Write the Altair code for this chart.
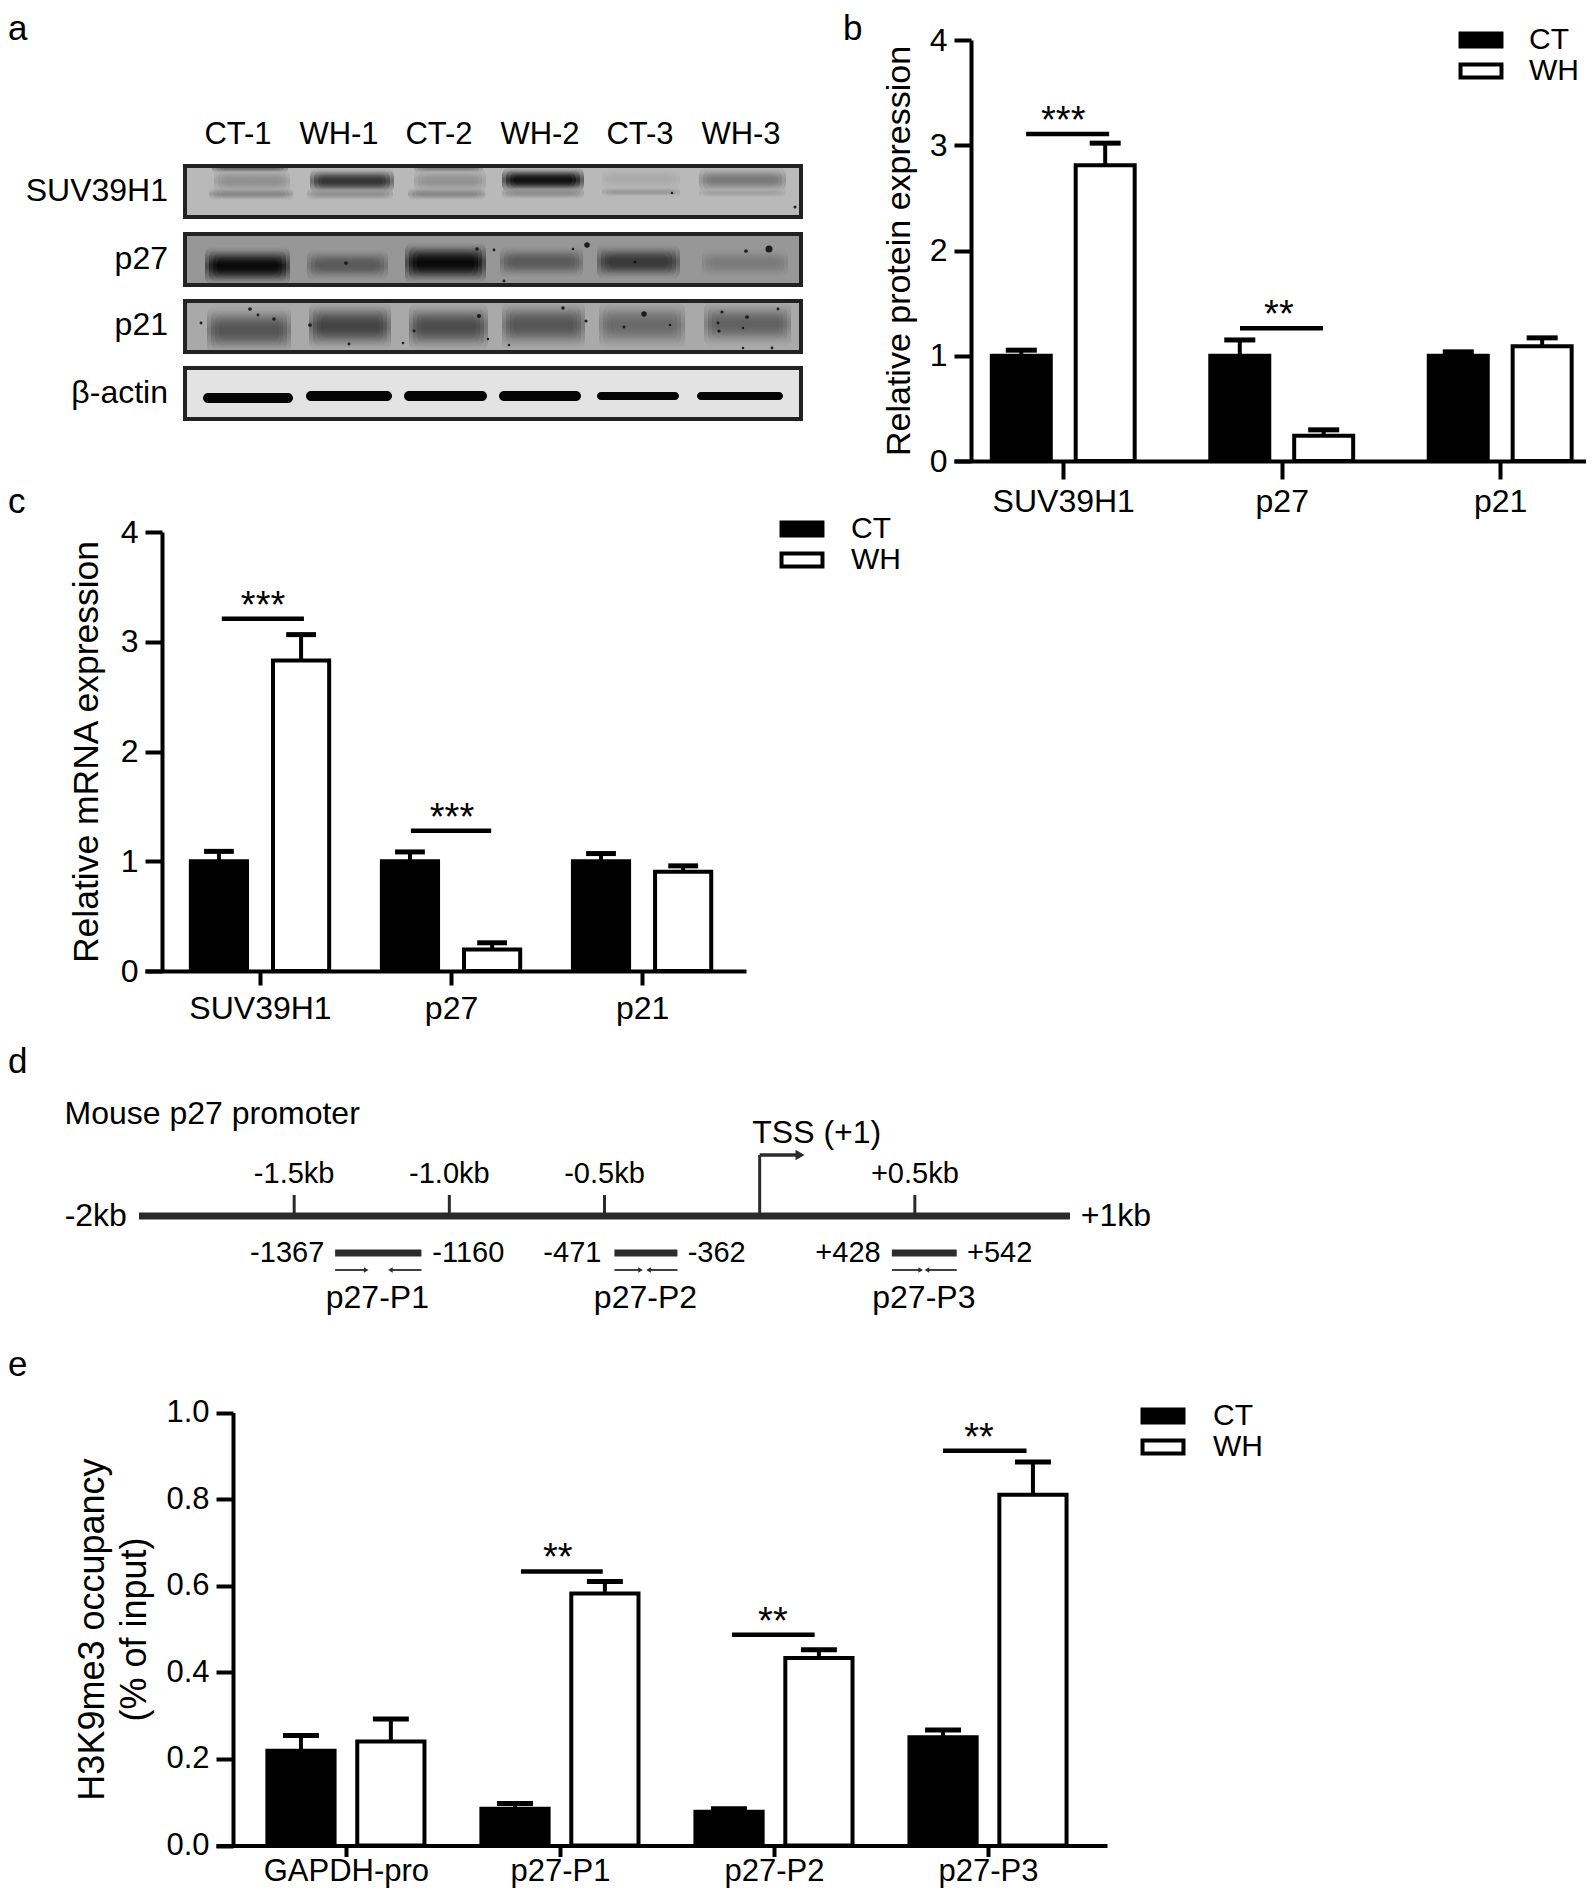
import altair as alt
import pandas as pd

W, H = 1578, 1880
FONT = "Liberation Sans"
INK = "#000000"

# ---------- panel b ----------
b_groups = ["SUV39H1", "p27", "p21"]
b_ct = [1.0, 1.0, 1.0]
b_ct_top = [1.053, 1.15, 1.037]
b_wh = [2.81, 0.24, 1.09]
b_wh_top = [3.02, 0.296, 1.17]
b_sig = [(0.33, 0.71, 3.108, 0.50, "***"), (1.309, 1.689, 1.262, 1.487, "**")]

# ---------- panel c ----------
c_groups = ["SUV39H1", "p27", "p21"]
c_ct = [1.0, 1.0, 1.0]
c_ct_top = [1.09, 1.085, 1.07]
c_wh = [2.83, 0.195, 0.905]
c_wh_top = [3.065, 0.257, 0.958]
c_sig = [(0.30, 0.73, 3.21, 0.516, "***"), (1.29, 1.71, 1.277, 1.505, "***")]

# ---------- panel e ----------
e_groups = ["GAPDH-pro", "p27-P1", "p27-P2", "p27-P3"]
e_ct = [0.219, 0.085, 0.078, 0.25]
e_ct_top = [0.254, 0.097, 0.085, 0.267]
e_wh = [0.24, 0.582, 0.433, 0.81]
e_wh_top = [0.292, 0.61, 0.452, 0.886]
e_sig = [(1.318, 1.70, 0.633, 1.49, "**"), (2.304, 2.69, 0.487, 2.495, "**"), (3.29, 3.68, 0.912, 3.458, "**")]

# ---------- panel a: western blot (read in blot units) ----------
lane_names = ["CT-1", "WH-1", "CT-2", "WH-2", "CT-3", "WH-3"]
lane_pos = [238, 339, 439, 540, 640, 741]
row_names = ["SUV39H1", "p27", "p21", "\u03b2-actin"]
row_pos = [191, 259, 325, 393]
frames = [(164, 219, "#b9b9b9"), (232, 287, "#979797"), (299, 354, "#a9a9a9"), (366, 421, "#e3e3e3")]
# start, end, centre, half height, grey level
bands = [
    (217, 287, 181, 8, "#8e8e8e"), (212, 290, 194, 4, "#858585"),
    (313, 391, 181, 8, "#2c2c2c"), (310, 390, 194, 4, "#8f8f8f"),
    (417, 483, 181, 8, "#909090"), (411, 482, 194, 4, "#858585"),
    (505, 581, 180, 8, "#050505"), (505, 581, 193, 4, "#8c8c8c"),
    (605, 677, 179, 7, "#a9a9a9"), (605, 677, 192, 3, "#979797"),
    (702, 783, 180, 8, "#767676"), (702, 783, 193, 3, "#a0a0a0"),
    (215, 285, 168, 3, "#666666"), (417, 480, 168, 3, "#7a7a7a"),
    (208, 287, 266, 12, "#000000"), (310, 385, 265, 10, "#565656"),
    (408, 483, 263, 13, "#000000"), (503, 580, 262, 10, "#565656"),
    (600, 677, 262, 11, "#333333"), (705, 785, 263, 9, "#797979"),
    (210, 288, 330, 15, "#4f4f4f"), (312, 388, 326, 15, "#3d3d3d"),
    (412, 485, 327, 15, "#474747"), (505, 582, 325, 15, "#505050"),
    (602, 682, 325, 15, "#666666"), (707, 788, 324, 14, "#5d5d5d"),
]
actin_bands = [
    (203, 293, 398, 5), (306, 392, 396, 5), (404, 487, 396, 5),
    (499, 581, 396, 5), (597, 679, 396, 4), (697, 783, 396, 4),
]
speck_x = [477, 494, 346, 587, 573, 746, 769, 504, 635, 795, 672, 250, 258, 274, 201, 310, 479, 349, 414, 403, 488,
           563, 586, 644, 624, 670, 722, 747, 718, 719, 743, 778, 743, 772, 509]
speck_y = [249, 250, 263, 245, 249, 251, 249, 281, 262, 207, 193, 309, 315, 319, 323, 325, 316, 344, 331, 343, 339,
           308, 321, 314, 327, 325, 312, 317, 323, 331, 328, 309, 348, 348, 345]
speck_r = [12, 8, 14, 30, 6, 14, 50, 8, 10, 10, 6, 14, 8, 12, 8, 14, 18, 8, 8, 6, 6,
           12, 10, 30, 8, 6, 10, 14, 8, 10, 6, 8, 6, 8, 6]

# ---------- panel d: promoter map (bp; track height above the line) ----------
d_ticks = [-1500, -1000, -500, 500]
d_tick_names = ["-1.5kb", "-1.0kb", "-0.5kb", "+0.5kb"]
d_amp_start = [-1368, -468, 426]
d_amp_end = [-1090, -265, 635]
d_amp_names = ["p27-P1", "p27-P2", "p27-P3"]
d_amp_mid = [-1232, -368, 529]
d_side_text = ["-1367", "-471", "+428"]
d_side_x = [-1403, -510, 390]
d_end_text = ["-1160", "-362", "+542"]
d_end_x = [-1055, -232, 668]
d_fwd = [(-1368, -1268), (-468, -384), (426, 519)]
d_rev = [(-1090, -1190), (-265, -358), (635, 539)]

letters = ["a", "b", "c", "d", "e"]
letter_x = [0, 835, 0, 0, 0]
letter_y = [32, 32, 505, 1065, 1368]


def txt(df, x, y, size, align="center", baseline="middle", dy=0):
    return alt.Chart(df).mark_text(font=FONT, fontSize=size, align=align, baseline=baseline, color=INK, dy=dy).encode(
        x=x, y=y, text="t:N")


def bar_panel(groups, ct, ct_top, wh, wh_top, sig, xdom, xr, yvals, ydom, yr, off, half, cap, yfmt, ytitle, title_x,
              leg_x, leg_y, lab_off, fs, title_fs, label_pad_x, xtick=18):
    xs = alt.Scale(domain=xdom, range=xr, nice=False, zero=False)
    ys = alt.Scale(domain=ydom, range=yr, nice=False, zero=False)
    rows = []
    for i in range(len(groups)):
        for name, sgn, v, t in (("CT", -1, ct[i], ct_top[i]), ("WH", 1, wh[i], wh_top[i])):
            c = i + 0.5 + sgn * off
            rows.append(dict(series=name, v=v, top=t, zero=0, c=c, x0=c - half, x1=c + half, c0=c - cap, c1=c + cap))
    df = pd.DataFrame(rows)
    names = "[" + ",".join("'%s'" % g for g in groups) + "]"
    xaxis = alt.Axis(orient="bottom", offset=-(H - yr[0]), values=[i + 0.5 for i in range(len(groups))],
                     labelExpr=names + "[floor(datum.value)]", title=None, grid=False, domainWidth=4,
                     domainColor=INK, tickColor=INK, tickWidth=4, tickSize=xtick, labelFont=FONT, labelFontSize=fs,
                     labelColor=INK, labelPadding=label_pad_x, labelOverlap=False, labelFlush=False)
    yaxis = alt.Axis(orient="left", offset=-(xr[0] + 17), values=yvals, format=yfmt, title=ytitle, grid=False,
                     domainWidth=4, domainColor=INK, tickColor=INK, tickWidth=4, tickSize=17, labelFont=FONT,
                     labelFontSize=fs, labelColor=INK, labelPadding=7, titleFont=FONT, titleFontSize=title_fs,
                     titleFontWeight="normal", titleColor=INK, titleX=title_x, titleLineHeight=title_fs + 6)
    X = alt.X("x0:Q", scale=xs, axis=xaxis)
    Y = alt.Y("v:Q", scale=ys, axis=yaxis)
    legend = alt.Legend(orient="none", legendX=leg_x, legendY=leg_y, title=None, symbolType="M-3.15,-1H3.15V1H-3.15Z",
                        symbolSize=169, symbolStrokeColor=INK, symbolStrokeWidth=4, labelFont=FONT, labelFontSize=30,
                        labelColor=INK, labelOffset=lab_off, rowPadding=1, values=["CT", "WH"])
    fill = alt.Fill("series:N", scale=alt.Scale(domain=["CT", "WH"], range=[INK, "#ffffff"]), legend=legend)
    NX = alt.X("c:Q", scale=xs, axis=None)
    NY = alt.Y("v:Q", scale=ys, axis=None)
    stems = alt.Chart(df).mark_rule(color=INK, strokeWidth=4).encode(x=NX, y=NY, y2="top:Q")
    caps = alt.Chart(df).mark_rule(color=INK, strokeWidth=5).encode(
        x=alt.X("c0:Q", scale=xs, axis=None), x2="c1:Q", y=alt.Y("top:Q", scale=ys, axis=None))
    rects = alt.Chart(df).mark_rect(stroke=INK, strokeWidth=4).encode(x=X, x2="x1:Q", y=Y, y2="zero:Q", fill=fill)
    sdf = pd.DataFrame(sig, columns=["a", "b", "v", "s", "t"])
    sbars = alt.Chart(sdf).mark_rule(color=INK, strokeWidth=4.5).encode(
        x=alt.X("a:Q", scale=xs, axis=None), x2="b:Q", y=NY)
    stars = txt(sdf, alt.X("s:Q", scale=xs, axis=None), NY, 38, baseline="alphabetic", dy=-1)
    return [stems, caps, rects, sbars, stars]


panel_b = bar_panel(b_groups, b_ct, b_ct_top, b_wh, b_wh_top, b_sig, [0, 2.911], [946, 1582], [0, 1, 2, 3, 4], [0, 4],
                    [453, 32], 0.192, 0.135, 0.071, "d", "Relative protein expression", -55, 1458, 17, 33, 32, 34, 7)
panel_c = bar_panel(c_groups, c_ct, c_ct_top, c_wh, c_wh_top, c_sig, [-0.102, 3.044], [137, 738], [0, 1, 2, 3, 4], [0, 4],
                    [963, 524], 0.215, 0.147, 0.078, "d", "Relative mRNA expression", -58, 779, 506, 34, 32, 35.5, 8, xtick=14)
panel_e = bar_panel(e_groups, e_ct, e_ct_top, e_wh, e_wh_top, e_sig, [-0.107, 4.056], [208, 1099],
                    [0, 0.2, 0.4, 0.6, 0.8, 1.0], [0, 1], [1837.5, 1404.6], 0.21, 0.157, 0.084, ".1f",
                    ["H3K9me3 occupancy", "(% of input)"], -122, 1140, 1393, 35, 31, 36, 0, xtick=11)

# ---------- panel a ----------
ax = alt.Scale(domain=[183, 803], range=[175, 795], nice=False, zero=False)
ay = alt.Scale(domain=[164, 421], range=[156, 413], nice=False, zero=False)
BX = alt.X("x0:Q", scale=ax, axis=None)
BY = alt.Y("y0:Q", scale=ay, axis=None)
a_layers = []
fdf = pd.DataFrame(frames, columns=["y0", "y1", "g"]).assign(x0=185, x1=801)
for _, r in fdf.iterrows():
    a_layers.append(alt.Chart(pd.DataFrame([r.to_dict()])).mark_rect(fill=r["g"]).encode(x=BX, x2="x1:Q", y=BY, y2="y1:Q"))


def rgba(hexc, a):
    v = [int(hexc[i:i + 2], 16) for i in (1, 3, 5)]
    return "rgba(%d,%d,%d,%.2f)" % (v[0], v[1], v[2], a)


for (x0, x1, yc, hh, g) in bands:
    for k, inset in enumerate([-3, 1, 5, 9]):
        h = hh * (1.6 - 0.25 * k)
        stops = [alt.GradientStop(color=rgba(g, 0), offset=0), alt.GradientStop(color=rgba(g, 0.5), offset=0.45),
                 alt.GradientStop(color=rgba(g, 0.5), offset=0.55), alt.GradientStop(color=rgba(g, 0), offset=1)]
        grad = alt.Gradient(gradient="linear", stops=stops, x1=0, x2=0, y1=0, y2=1)
        d = pd.DataFrame([dict(x0=x0 + inset, x1=x1 - inset, y0=yc - h, y1=yc + h)])
        a_layers.append(alt.Chart(d).mark_rect(fill=grad, cornerRadius=min(8, int(h))).encode(x=BX, x2="x1:Q", y=BY, y2="y1:Q"))
for (x0, x1, yc, hh) in actin_bands:
    d = pd.DataFrame([dict(x0=x0, x1=x1, y0=yc - hh, y1=yc + hh)])
    a_layers.append(alt.Chart(d).mark_rect(fill="#050505", cornerRadius=5).encode(x=BX, x2="x1:Q", y=BY, y2="y1:Q"))
a_layers.append(alt.Chart(pd.DataFrame(dict(x0=speck_x, y0=speck_y, r=speck_r))).mark_circle(color="#111111", opacity=0.9).encode(
    x=BX, y=BY, size=alt.Size("r:Q", scale=None, legend=None)))
for _, r in fdf.iterrows():
    d = pd.DataFrame([dict(x0=185, x1=801, y0=r["y0"] + 2, y1=r["y1"] - 2)])
    a_layers.append(alt.Chart(d).mark_rect(fill=None, stroke="#222222", strokeWidth=4).encode(x=BX, x2="x1:Q", y=BY, y2="y1:Q"))
a_layers.append(txt(pd.DataFrame(dict(x0=lane_pos, y0=[135] * 6, t=lane_names)), BX, BY, 31))
a_layers.append(txt(pd.DataFrame(dict(x0=[168] * 4, y0=row_pos, t=row_names)), BX, BY, 32, align="right"))

# ---------- panel d ----------
dx = alt.Scale(domain=[-2000, 1000], range=[131, 1062], nice=False, zero=False)
dy = alt.Scale(domain=[-110, 110], range=[1318, 1098], nice=False, zero=False)
DX = alt.X("x0:Q", scale=dx, axis=None)
DY = alt.Y("y0:Q", scale=dy, axis=None)
DARK = "#2b2b2b"
d_layers = [
    alt.Chart(pd.DataFrame(dict(x0=[-2000], x1=[1000], y0=[0]))).mark_rule(color=DARK, strokeWidth=7).encode(x=DX, x2="x1:Q", y=DY),
    alt.Chart(pd.DataFrame(dict(x0=d_ticks, y0=[0] * 4, y1=[21] * 4))).mark_rule(color=DARK, strokeWidth=3).encode(x=DX, y=DY, y2="y1:Q"),
    alt.Chart(pd.DataFrame(dict(x0=[0], y0=[0], y1=[61]))).mark_rule(color=DARK, strokeWidth=3).encode(x=DX, y=DY, y2="y1:Q"),
    alt.Chart(pd.DataFrame(dict(x0=[0], x1=[130], y0=[61]))).mark_rule(color=DARK, strokeWidth=3.5).encode(x=DX, x2="x1:Q", y=DY),
    alt.Chart(pd.DataFrame(dict(x0=[130], y0=[61]))).mark_point(shape="triangle-right", filled=True, color=DARK, size=110, opacity=1).encode(x=DX, y=DY),
    alt.Chart(pd.DataFrame(dict(x0=d_amp_start, x1=d_amp_end, y0=[-37] * 3))).mark_rule(color=DARK, strokeWidth=7).encode(x=DX, x2="x1:Q", y=DY),
]
for pairs, shape in ((d_fwd, "triangle-right"), (d_rev, "triangle-left")):
    pdf = pd.DataFrame(dict(x0=[p[0] for p in pairs], x1=[p[1] for p in pairs], y0=[-54] * 3))
    d_layers.append(alt.Chart(pdf).mark_rule(color=DARK, strokeWidth=1.8).encode(x=DX, x2="x1:Q", y=DY))
    d_layers.append(alt.Chart(pdf).mark_point(shape=shape, filled=True, color=DARK, size=28, opacity=1).encode(
        x=alt.X("x1:Q", scale=dx, axis=None), y=DY))
d_layers += [
    txt(pd.DataFrame(dict(x0=d_ticks, y0=[42] * 4, t=d_tick_names)), DX, DY, 29),
    txt(pd.DataFrame(dict(x0=[184], y0=[83], t=["TSS (+1)"])), DX, DY, 32),
    txt(pd.DataFrame(dict(x0=[-2240], y0=[102], t=["Mouse p27 promoter"])), DX, DY, 32, align="left"),
    txt(pd.DataFrame(dict(x0=[-2039], y0=[0], t=["-2kb"])), DX, DY, 32, align="right"),
    txt(pd.DataFrame(dict(x0=[1035], y0=[0], t=["+1kb"])), DX, DY, 32, align="left"),
    txt(pd.DataFrame(dict(x0=d_side_x, y0=[-37] * 3, t=d_side_text)), DX, DY, 29, align="right"),
    txt(pd.DataFrame(dict(x0=d_end_x, y0=[-37] * 3, t=d_end_text)), DX, DY, 29, align="left"),
    txt(pd.DataFrame(dict(x0=d_amp_mid, y0=[-82] * 3, t=d_amp_names)), DX, DY, 32),
]

letter_layer = alt.Chart(pd.DataFrame(dict(x0=letter_x, y0=letter_y, t=letters))).mark_text(
    font=FONT, fontSize=35, align="left", baseline="alphabetic", color=INK).encode(
    x=alt.X("x0:Q", scale=None, axis=None), y=alt.Y("y0:Q", scale=None, axis=None), text="t:N")

all_layers = a_layers + panel_b + panel_c + d_layers + panel_e + [letter_layer]
chart = alt.layer(*all_layers).resolve_scale(
    x="independent", y="independent", fill="independent").properties(
    width=W, height=H, padding=0, autosize=alt.AutoSizeParams(type="none"),
    background="white").configure_view(stroke=None)

chart.save("out.html", embed_options={"renderer": "svg", "actions": False})
